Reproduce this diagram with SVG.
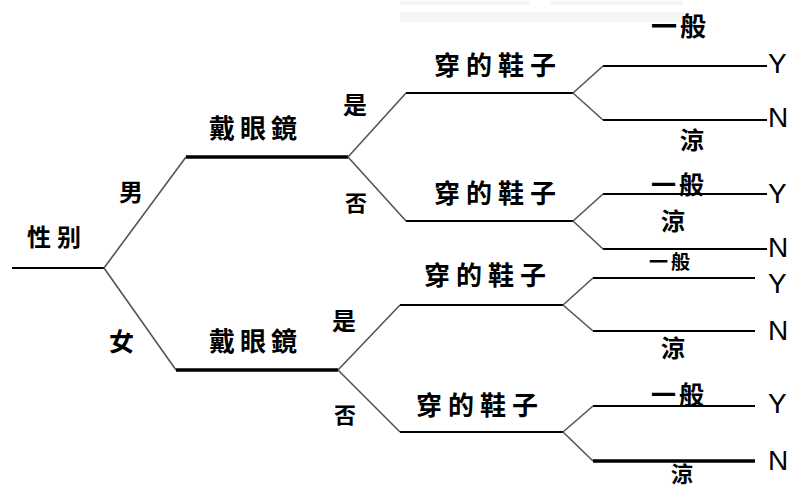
<svg xmlns="http://www.w3.org/2000/svg" width="789" height="487" viewBox="0 0 789 487">
<style>
.cjk{font-family:"Noto Sans CJK TC","Noto Sans CJK SC",sans-serif;font-weight:700;fill:#000}
.yn{font-family:"Liberation Sans",Arial,sans-serif;font-size:28px;fill:#000}
.h{stroke:#000;stroke-width:2;fill:none}
.hk{stroke:#000;stroke-width:3.5;fill:none}
.d{stroke:#555;stroke-width:1.6;fill:none}
</style>
<rect width="789" height="487" fill="#fff"/>
<g id="watermark" fill="#f5f5f5">
<rect x="400" y="1" width="130" height="4"/>
<rect x="550" y="1" width="133" height="4"/>
<rect x="400" y="12" width="285" height="10"/>
</g>
<g id="connectors">
<path class="h" d="M12 268H104"/>
<path class="d" d="M104 268L186 157M104 268L176 370"/>
<path class="hk" d="M186 157H348M176 370H338"/>
<path class="d" d="M348 157L406 93M348 157L406 221"/>
<path class="h" d="M406 93H573M406 221H573"/>
<path class="d" d="M573 93L603 66M573 93L603 120M573 221L603 194M573 221L603 249"/>
<path class="h" d="M603 66H767M603 120H767M603 194H767M603 249H767"/>
<path class="d" d="M338 370L400 305M338 370L400 432"/>
<path class="h" d="M400 305H563M400 432H563"/>
<path class="d" d="M563 305L593 278M563 305L593 331M563 432L593 406M563 432L593 461"/>
<path class="h" d="M593 278H755M593 331H755M593 406H755"/>
<path class="hk" d="M593 461H755"/>
</g>
<g id="root"><text class="cjk" x="27" y="246" font-size="24" letter-spacing="6">性别</text></g>
<g id="edge-male"><text class="cjk" x="119" y="201" font-size="24">男</text></g>
<g id="edge-female"><text class="cjk" x="109" y="351" font-size="25">女</text></g>
<g id="glasses-m"><text class="cjk" x="209" y="138" font-size="26" letter-spacing="5">戴眼鏡</text></g>
<g id="glasses-f"><text class="cjk" x="209" y="351" font-size="26" letter-spacing="5">戴眼鏡</text></g>
<g id="yes-m"><text class="cjk" x="343" y="114" font-size="24">是</text></g>
<g id="no-m"><text class="cjk" x="345" y="211" font-size="22">否</text></g>
<g id="yes-f"><text class="cjk" x="332" y="330" font-size="24">是</text></g>
<g id="no-f"><text class="cjk" x="334" y="423" font-size="22">否</text></g>
<g id="shoes-1"><text class="cjk" x="434" y="75" font-size="26" letter-spacing="6">穿的鞋子</text></g>
<g id="shoes-2"><text class="cjk" x="434" y="203" font-size="26" letter-spacing="6">穿的鞋子</text></g>
<g id="shoes-3"><text class="cjk" x="424" y="285" font-size="26" letter-spacing="6">穿的鞋子</text></g>
<g id="shoes-4"><text class="cjk" x="416" y="415" font-size="26" letter-spacing="6">穿的鞋子</text></g>
<g id="gen-1"><text class="cjk" x="651" y="36" font-size="26" letter-spacing="3">一般</text></g>
<g id="gen-2"><text class="cjk" x="651" y="194" font-size="25" letter-spacing="3">一般</text></g>
<g id="gen-3"><text class="cjk" x="649" y="269" font-size="19" letter-spacing="3">一般</text></g>
<g id="gen-4"><text class="cjk" x="651" y="404" font-size="25" letter-spacing="3">一般</text></g>
<g id="cool-1"><text class="cjk" x="680" y="149" font-size="24">涼</text></g>
<g id="cool-2"><text class="cjk" x="661" y="230" font-size="24">涼</text></g>
<g id="cool-3"><text class="cjk" x="661" y="357" font-size="24">涼</text></g>
<g id="cool-4"><text class="cjk" x="671" y="482" font-size="22">涼</text></g>
<g id="leaves">
<text class="yn" x="768" y="73">Y</text>
<text class="yn" x="768" y="127">N</text>
<text class="yn" x="768" y="203">Y</text>
<text class="yn" x="768" y="257">N</text>
<text class="yn" x="768" y="293">Y</text>
<text class="yn" x="768" y="340">N</text>
<text class="yn" x="768" y="413">Y</text>
<text class="yn" x="768" y="470">N</text>
</g>
</svg>
